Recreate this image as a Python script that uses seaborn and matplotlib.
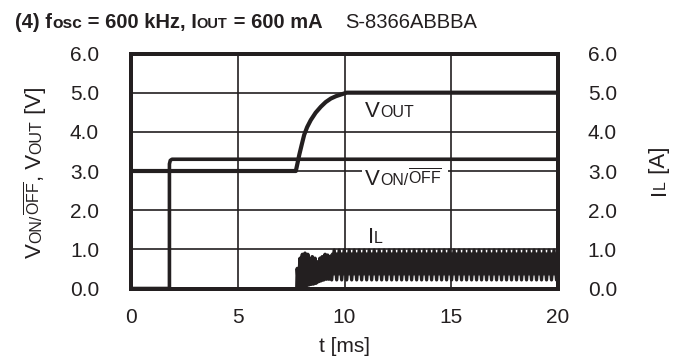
import numpy as np
import matplotlib
matplotlib.use("Agg")
import matplotlib.pyplot as plt
import seaborn as sns
from matplotlib.transforms import IdentityTransform
from matplotlib.patches import Rectangle

# ---- measured traces (time in ms) ----
# ON/OFF control voltage [V]
von_t = [0.0, 1.80, 1.80, 1.84, 1.92, 20.0]
von_v = [0.0, 0.00, 3.18, 3.27, 3.30, 3.30]

# output voltage [V]
vout_t = [0.0, 7.72, 7.80, 7.88, 8.00, 8.11, 8.25, 8.42, 8.65, 8.89, 9.12, 9.36, 9.60, 9.82, 10.10, 20.0]
vout_v = [3.0, 3.00, 3.20, 3.41, 3.68, 3.92, 4.12, 4.30, 4.49, 4.64, 4.76, 4.85, 4.91, 4.95, 5.00, 5.00]

# inductor current [A]: start-up burst, peaks and valleys
il_burst_t = [7.77, 7.79, 7.85, 7.92, 7.97, 8.03, 8.09, 8.15, 8.21, 8.28, 8.33, 8.38, 8.44, 8.49, 8.55,
              8.62, 8.67, 8.73, 8.79, 8.85, 8.90, 8.96, 9.02, 9.09, 9.15, 9.21, 9.27, 9.32, 9.37]
il_burst_v = [0.00, 0.51, 0.05, 0.77, 0.06, 0.87, 0.08, 0.90, 0.07, 0.87, 0.10, 0.68, 0.12, 0.81, 0.12,
              0.77, 0.14, 0.68, 0.18, 0.77, 0.20, 0.81, 0.22, 0.87, 0.24, 0.85, 0.24, 0.81, 0.25]
# dense core of the switching waveform
il_env_t = [7.78, 7.85, 8.00, 8.30, 8.60, 8.90, 9.20, 9.40, 20.0]
il_env_lo = [0.02, 0.04, 0.05, 0.08, 0.12, 0.20, 0.28, 0.36, 0.36]
il_env_hi = [0.45, 0.60, 0.70, 0.62, 0.60, 0.65, 0.78, 0.92, 0.92]
# steady-state ripple
il_ss_start, il_ss_end = 9.40, 20.0
il_ss_high, il_ss_low = 0.98, 0.22
il_ss_period = 0.234

x_ticks = [0, 5, 10, 15, 20]
y_ticks = [0, 1, 2, 3, 4, 5, 6]
y_tick_labels = ["0.0", "1.0", "2.0", "3.0", "4.0", "5.0", "6.0"]

INK = "#231f20"
TICK_FS = 15

sns.set_style("white")
plt.rcParams["font.family"] = ["Liberation Sans", "DejaVu Sans"]
plt.rcParams["mathtext.fontset"] = "custom"
plt.rcParams["mathtext.rm"] = "Liberation Sans"
plt.rcParams["mathtext.bf"] = "Liberation Sans:bold"

fig = plt.figure(figsize=(6.86, 3.62), dpi=100)
ax = fig.add_axes([131 / 686, 1 - 288.5 / 362, (558 - 131) / 686, (288.5 - 53.5) / 362])
ax2 = ax.twinx()

for a in (ax, ax2):
    a.set_xlim(0, 20)
    a.set_ylim(0, 6)
    a.set_yticks(y_ticks)
    a.set_yticklabels(y_tick_labels)
    for sp in a.spines.values():
        sp.set_linewidth(2.8)
        sp.set_color(INK)
        sp.set_visible(True)
    a.tick_params(length=0, labelsize=TICK_FS, colors=INK)

ax.set_xticks(x_ticks)
ax.tick_params(axis="y", pad=23)
ax.tick_params(axis="x", pad=14)
ax2.tick_params(axis="y", pad=21.5)
ax.grid(True, color=INK, lw=1.2)
ax.set_axisbelow(True)

# label gap on the 3.0 V grid line
ax.add_patch(Rectangle((10.82, 2.84), 4.03, 0.28, facecolor="white", edgecolor="none", zorder=1.5))

sns.lineplot(x=von_t, y=von_v, ax=ax, color=INK, lw=2.6, sort=False, estimator=None, zorder=3)
sns.lineplot(x=vout_t, y=vout_v, ax=ax, color=INK, lw=3.0, sort=False, estimator=None, zorder=3)

# inductor current (right axis shares the 0-6 scale)
ax2.fill_between(il_env_t, il_env_lo, il_env_hi, facecolor=INK, edgecolor=INK,
                 linewidth=0.8, zorder=4)
sns.lineplot(x=il_burst_t, y=il_burst_v, ax=ax2, color=INK, lw=2.6, sort=False, estimator=None, zorder=3)
ss_t = np.arange(il_ss_start, il_ss_end + 1e-9, il_ss_period / 2)
ss_v = np.where(np.arange(len(ss_t)) % 2 == 0, il_ss_low, il_ss_high)
sns.lineplot(x=ss_t, y=ss_v, ax=ax2, color=INK, lw=2.4, sort=False, estimator=None, zorder=3)

ax.set_xlabel("t [ms]", fontsize=TICK_FS, color=INK, labelpad=7)
ax.set_ylabel("")
ax2.set_ylabel("")

renderer = fig.canvas.get_renderer()


def rich_text(x, y, pieces, rotation=0):
    """Draw text pieces of mixed size one after another, on a shared baseline (pixels)."""
    ang = np.deg2rad(rotation)
    for s, props in pieces:
        probe = fig.text(0, 0, s, transform=IdentityTransform(), **props)
        w = probe.get_window_extent(renderer).width
        probe.remove()
        fig.text(x, y, s, transform=IdentityTransform(), ha="left", va="baseline",
                 rotation=rotation, rotation_mode="anchor", color=INK, zorder=10, **props)
        x += w * np.cos(ang)
        y += w * np.sin(ang)


def data_px(a, xd, yd):
    return a.transData.transform((xd, yd))


big = dict(fontsize=16)
small = dict(fontsize=11.5)
bar = r"$\overline{\mathregular{OFF}}$"

# title
tb = dict(fontsize=14.5, fontweight="bold")
rich_text(15, 362 - 28, [("(4) f", tb), ("osc", dict(fontsize=12.5, fontweight="bold")),
                         (" = 600 kHz, I", tb), ("OUT", dict(fontsize=10.5, fontweight="bold")),
                         (" = 600 mA", tb)])
rich_text(345, 362 - 28, [("S-8366ABBBA", dict(fontsize=14.5))])

# axis labels
rich_text(41, 362 - 258, [("V", big), ("ON/", small), (bar, small), (", V", big), ("OUT", small),
                          (" [V]", big)], rotation=90)
rich_text(665, 362 - 195, [("I", big), ("L", small), (" [A]", big)], rotation=90)

# trace labels
px, py = data_px(ax, 10.96, 4.375)
rich_text(px, py, [("V", big), ("OUT", small)])
px, py = data_px(ax, 10.96, 2.64)
rich_text(px, py, [("V", big), ("ON/", small), (bar, small)])
px, py = data_px(ax, 11.1, 1.16)
rich_text(px, py, [("I", big), ("L", small)])

fig.savefig("out.png", dpi=100)
